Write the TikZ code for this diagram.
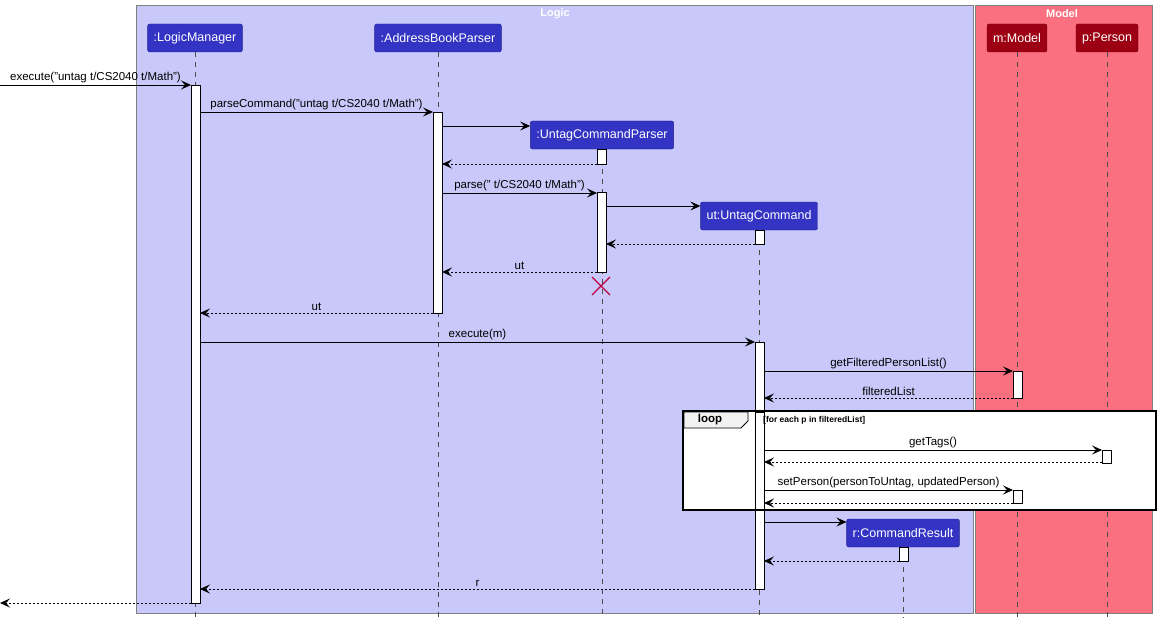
\documentclass[tikz,border=0pt]{standalone}
\usepackage{fontspec}
\setmainfont{Liberation Sans}
\usetikzlibrary{positioning,arrows.meta}
\definecolor{logicbg}{HTML}{C8C8FA}
\definecolor{modelbg}{HTML}{FB7080}
\definecolor{logicpt}{HTML}{3333C4}
\definecolor{modelpt}{HTML}{9D0012}
\tikzset{
  part/.style={draw=#1!70!black,fill=#1,text=white,rounded corners=2pt,minimum height=28pt,inner xsep=6pt,font=\fontsize{12.5}{14}\selectfont},
  life/.style={gray!60!black,dash pattern=on 5pt off 5pt,line width=0.8pt},
  act/.style={draw,fill=white,line width=0.8pt},
  msg/.style={-{Stealth[length=10pt,width=9pt,inset=4pt]},line width=0.8pt},
  ret/.style={-{Stealth[length=10pt,width=9pt,inset=4pt]},line width=0.8pt,dash pattern=on 2pt off 2pt},
  lbl/.style={font=\fontsize{11.5}{14}\selectfont,inner sep=2pt}
}
\begin{document}
\begin{tikzpicture}[x=1pt,y=-1pt]
\useasboundingbox (0,0) rectangle (1161,623);
% boxes
\fill[logicbg,draw=gray] (136,5) rectangle (973,613);
\fill[modelbg,draw=gray] (975,5) rectangle (1152,613);
\node[text=white,font=\bfseries\fontsize{11}{14}\selectfont] (logic) at (555,14) {Logic};
\node[text=white,font=\bfseries\fontsize{11}{14}\selectfont] (model) at (1062,14) {Model};
% participants
\node[part=logicpt] (lm) at (195,38) {:LogicManager};
\node[part=logicpt] (abp) at (438,38) {:AddressBookParser};
\node[part=logicpt] (ucp) at (602,135) {:UntagCommandParser};
\node[part=logicpt] (uc) at (759,216) {ut:UntagCommand};
\node[part=logicpt] (cr) at (903,533) {r:CommandResult};
\node[part=modelpt] (m) at (1017,38) {m:Model};
\node[part=modelpt] (p) at (1107,38) {p:Person};
% lifelines
\foreach \n in {lm,abp,ucp,uc,cr,m,p}
  \draw[life] (\n.south) -- (\n |- 0,618);
% activations
\draw[act] (191,85) rectangle (200,603);
\draw[act] (433,112) rectangle (442,313);
\draw[act] (597,149) rectangle (606,164);
\draw[act] (597,192) rectangle (606,272);
\draw[act] (755,230) rectangle (764,244);
\draw[act] (755,342) rectangle (764,589);
\draw[act] (1013,371) rectangle (1022,398);
\draw[act] (899,547) rectangle (908,561);
% destroy
\draw[purple,line width=1.3pt] (592,277) -- (610,295) (610,277) -- (592,295);
% messages
\coordinate (in) at (0,85);
\coordinate (out) at (0,603);
\draw[msg] (in) -- (191,85) node[lbl,above,pos=0.5] {execute("untag t/CS2040 t/Math")};
\draw[msg] (200,112) -- (433,112) node[lbl,above,pos=0.5] {parseCommand("untag t/CS2040 t/Math")};
\draw[msg] (442,126) -- (ucp.west |- 0,126);
\draw[ret] (597,164) -- (442,164);
\draw[msg] (442,193) -- (597,193) node[lbl,above,pos=0.5] {parse(" t/CS2040 t/Math")};
\draw[msg] (606,206) -- (uc.west |- 0,206);
\draw[ret] (755,244) -- (606,244);
\draw[ret] (597,272) -- (442,272) node[lbl,above,pos=0.5] {ut};
\draw[ret] (433,313) -- (200,313) node[lbl,above,pos=0.5] {ut};
\draw[msg] (200,342) -- (755,342) node[lbl,above,pos=0.5] {execute(m)};
\draw[msg] (764,371) -- (1013,371) node[lbl,above,pos=0.5] {getFilteredPersonList()};
\draw[ret] (1013,398) -- (764,398) node[lbl,above,pos=0.5] {filteredList};
% loop frame
\draw[fill=white,line width=1.5pt] (683,411) rectangle (1156,510);
\draw[fill=gray!10,line width=0.8pt] (684,412) -- (748,412) -- (748,421) -- (741,428) -- (684,428) -- cycle;
\node[font=\bfseries\fontsize{11.5}{14}\selectfont] (loop) at (710,420) {loop};
\draw[act] (755,412) rectangle (764,509);
\node[font=\bfseries\fontsize{8.5}{10}\selectfont,anchor=west,inner sep=0pt] (guard) at (763,420) {[for each p in filteredList]};
\draw[msg] (764,450) -- (1102,450) node[lbl,above,pos=0.5] {getTags()};
\draw[act] (1102,450) rectangle (1111,463);
\draw[ret] (1102,462) -- (764,462);
\draw[msg] (764,490) -- (1013,490) node[lbl,above,pos=0.5] {setPerson(personToUntag, updatedPerson)};
\draw[act] (1013,490) rectangle (1022,503);
\draw[ret] (1013,503) -- (764,503);
\draw[msg] (764,522) -- (cr.west |- 0,522);
\draw[ret] (899,561) -- (764,561);
\draw[ret] (755,589) -- (200,589) node[lbl,above,pos=0.5] {r};
\draw[ret] (191,603) -- (out);
\end{tikzpicture}
\end{document}
